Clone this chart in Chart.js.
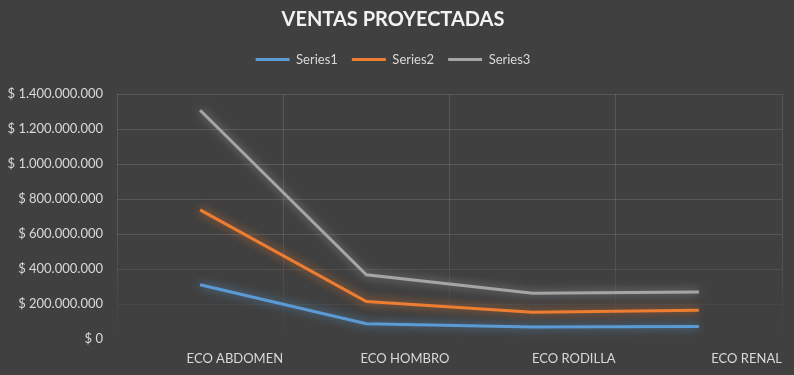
<!DOCTYPE html>
<html>
<head>
<meta charset="utf-8">
<script src="https://cdn.jsdelivr.net/npm/chart.js@4.4.0/dist/chart.umd.min.js"></script>
<style>
  html, body { margin: 0; padding: 0; background: #404040; }
  #wrap { width: 794px; height: 375px; }
</style>
</head>
<body>
<div id="wrap"><canvas id="ventasChart" width="794" height="375"></canvas></div>
<script>
const categorias = ['ECO ABDOMEN', 'ECO HOMBRO', 'ECO RODILLA', 'ECO RENAL'];
const series1 = [310000000, 87000000, 68000000, 72000000];
const series2 = [738000000, 214000000, 153000000, 164000000];
const series3 = [1307000000, 367000000, 262000000, 268000000];
const yTicks = [0, 200000000, 400000000, 600000000, 800000000, 1000000000, 1200000000, 1400000000];

const textColor = '#D9D9D9';
const fontFam = 'Lato, "Open Sans", sans-serif';

function pesos(v) {
    return '$ ' + String(v).replace(/\B(?=(\d{3})+(?!\d))/g, '.');
}

// las lineas de la cuadricula se desvanecen hacia abajo
function gridY(context) {
    if (!context.tick) return 'rgba(255,255,255,0.12)';
    const f = context.tick.value / 1400000000;
    const a = 0.12 * Math.min(1, f / 0.43);
    return 'rgba(255,255,255,' + a.toFixed(3) + ')';
}

function gridX(context) {
    const chart = context.chart;
    const ca = chart.chartArea;
    if (!ca) return 'rgba(255,255,255,0.12)';
    const g = chart.ctx.createLinearGradient(0, ca.top, 0, ca.bottom);
    g.addColorStop(0, 'rgba(255,255,255,0.12)');
    g.addColorStop(0.55, 'rgba(255,255,255,0.12)');
    g.addColorStop(1, 'rgba(255,255,255,0)');
    return g;
}

// brillo alrededor de las lineas (efecto "glow" de Excel)
const glowPlugin = {
    id: 'glow',
    beforeDatasetDraw(chart, args) {
        const ds = chart.data.datasets[args.index];
        const ctx = chart.ctx;
        ctx.save();
        ctx.shadowColor = ds.glowColor;
        ctx.shadowBlur = 10;
    },
    afterDatasetDraw(chart) {
        chart.ctx.restore();
    }
};

// mas espacio debajo de la leyenda
const legendGap = {
    id: 'legendGap',
    beforeInit(chart) {
        const origFit = chart.legend.fit;
        chart.legend.fit = function () {
            origFit.call(this);
            this.height += 18;
        };
    }
};

const ctx = document.getElementById('ventasChart').getContext('2d');

new Chart(ctx, {
    type: 'line',
    data: {
        labels: categorias,
        datasets: [
            { label: 'Series1', data: series1, borderColor: '#5B9BD5', glowColor: 'rgba(91,155,213,0.8)', order: 3 },
            { label: 'Series2', data: series2, borderColor: '#ED7D31', glowColor: 'rgba(237,125,49,0.8)', order: 2 },
            { label: 'Series3', data: series3, borderColor: '#A5A5A5', glowColor: 'rgba(165,165,165,0.8)', order: 1 }
        ].map(d => Object.assign(d, {
            backgroundColor: d.borderColor,
            borderWidth: 3,
            pointRadius: 0,
            tension: 0,
            fill: false
        }))
    },
    options: {
        responsive: false,
        animation: false,
        layout: { padding: { left: 4, right: 12, top: 6, bottom: 4 } },
        plugins: {
            title: {
                display: true,
                text: 'VENTAS PROYECTADAS',
                color: '#F2F2F2',
                font: { family: fontFam, size: 20, weight: 'bold' },
                padding: { top: 2, bottom: 7 }
            },
            legend: {
                position: 'top',
                labels: {
                    color: textColor,
                    font: { family: fontFam, size: 13 },
                    usePointStyle: true,
                    pointStyle: 'line',
                    pointStyleWidth: 34,
                    boxHeight: 3,
                    padding: 14,
                    sort: (a, b) => a.datasetIndex - b.datasetIndex
                }
            },
            tooltip: { enabled: false }
        },
        scales: {
            x: {
                offset: true,
                afterFit(scale) { scale.height = 32; },
                grid: { offset: true, color: gridX, lineWidth: 1, drawTicks: false },
                border: { display: false },
                ticks: {
                    color: textColor,
                    font: { family: fontFam, size: 13 },
                    align: 'end',
                    labelOffset: 83,
                    padding: 12,
                    maxRotation: 0
                }
            },
            y: {
                min: 0,
                max: 1400000000,
                afterFit(scale) { scale.width = 113; },
                afterBuildTicks(scale) {
                    scale.ticks = yTicks.map(v => ({ value: v }));
                },
                grid: { color: gridY, lineWidth: 1, drawTicks: false },
                border: { display: false },
                ticks: {
                    color: textColor,
                    font: { family: fontFam, size: 13 },
                    padding: 14,
                    callback: v => pesos(v)
                }
            }
        }
    },
    plugins: [glowPlugin, legendGap]
});
</script>
</body>
</html>
